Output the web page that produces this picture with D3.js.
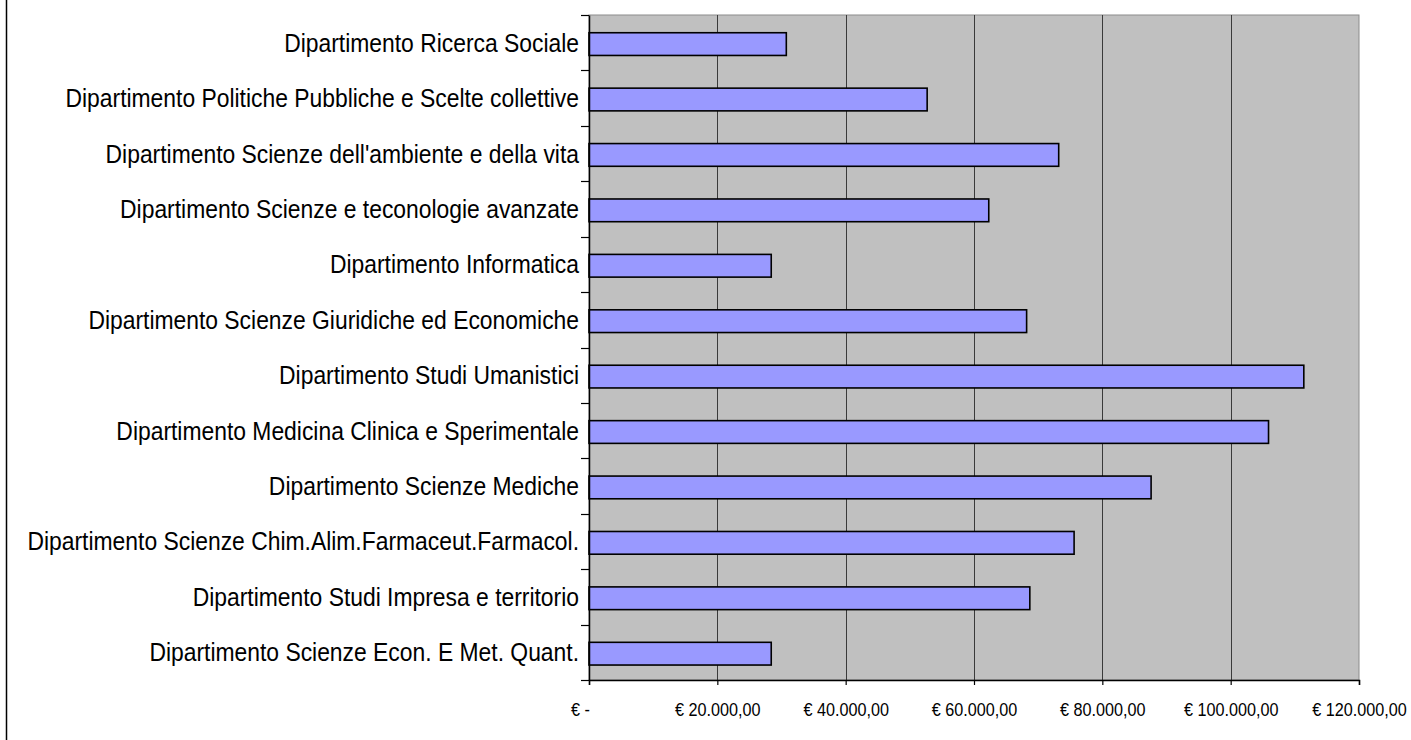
<!DOCTYPE html>
<html>
<head>
<meta charset="utf-8">
<script src="https://cdn.jsdelivr.net/npm/d3@7"></script>
<style>
  html, body { margin: 0; padding: 0; background: #ffffff; }
  svg { display: block; }
  text { font-family: "Liberation Sans", Arial, sans-serif; fill: #000; }
</style>
</head>
<body>
<svg id="chart" width="1411" height="740"></svg>
<script>
const categories = [
  "Dipartimento Ricerca Sociale",
  "Dipartimento Politiche Pubbliche e Scelte collettive",
  "Dipartimento Scienze dell'ambiente e della vita",
  "Dipartimento Scienze e teconologie avanzate",
  "Dipartimento Informatica",
  "Dipartimento Scienze Giuridiche ed Economiche",
  "Dipartimento Studi Umanistici",
  "Dipartimento Medicina Clinica e Sperimentale",
  "Dipartimento Scienze Mediche",
  "Dipartimento Scienze Chim.Alim.Farmaceut.Farmacol.",
  "Dipartimento Studi Impresa e territorio",
  "Dipartimento Scienze Econ. E Met. Quant."
];
const values = [30750, 52700, 73200, 62300, 28400, 68200, 111400, 105900, 87600, 75600, 68700, 28400];
const xTicks = [0, 20000, 40000, 60000, 80000, 100000, 120000];
const xTickLabels = ["€ -", "€ 20.000,00", "€ 40.000,00", "€ 60.000,00", "€ 80.000,00", "€ 100.000,00", "€ 120.000,00"];

const svg = d3.select("#chart");
const plot = { left: 589, right: 1359, top: 15, bottom: 680 };
const labelSX = 0.915, tickSX = 0.9;

const x = d3.scaleLinear().domain([0, 120000]).range([plot.left, plot.right]);
const y = d3.scaleBand().domain(categories).range([plot.top, plot.bottom]).padding(0);
const step = y.step();

// outer frame left edge
svg.append("line").attr("x1", 6.5).attr("x2", 6.5).attr("y1", 0).attr("y2", 740)
  .attr("stroke", "#000").attr("stroke-width", 1.5);

// plot background
svg.append("rect")
  .attr("x", plot.left).attr("y", plot.top)
  .attr("width", plot.right - plot.left).attr("height", plot.bottom - plot.top)
  .attr("fill", "#c0c0c0").attr("stroke", "#8c8c8c").attr("stroke-width", 1);

// gridlines
svg.append("g").selectAll("line").data(xTicks.slice(1, -1)).join("line")
  .attr("x1", d => Math.round(x(d)) + 0.5).attr("x2", d => Math.round(x(d)) + 0.5)
  .attr("y1", plot.top).attr("y2", plot.bottom)
  .attr("stroke", "#3a3a3a").attr("stroke-width", 1);

// bars
svg.append("g").selectAll("rect").data(values).join("rect")
  .attr("x", x(0))
  .attr("y", (d, i) => y(categories[i]) + step * 0.32)
  .attr("width", d => x(d) - x(0))
  .attr("height", step * 0.41)
  .attr("fill", "#9999ff").attr("stroke", "#000").attr("stroke-width", 1.6);

// x axis
const xAxis = d3.axisBottom(x).tickValues(xTicks)
  .tickFormat((d, i) => xTickLabels[i]).tickSize(5).tickPadding(18);
const gx = svg.append("g").attr("transform", `translate(0,${plot.bottom})`).call(xAxis);
gx.select(".domain").attr("stroke", "#000").attr("stroke-width", 1.5);
gx.selectAll(".tick line").attr("stroke", "#000").attr("stroke-width", 1.2);
gx.selectAll(".tick text").attr("font-size", 18).attr("font-family", "Liberation Sans, Arial, sans-serif")
  .attr("fill", "#000")
  .attr("x", (d, i) => i === 0 ? -9 / tickSX : 0)
  .attr("transform", `scale(${tickSX},1)`);

// y axis
const yAxis = d3.axisLeft(y).tickSize(0).tickPadding(10);
const gy = svg.append("g").attr("transform", `translate(${plot.left},0)`).call(yAxis);
gy.select(".domain").attr("stroke", "#000").attr("stroke-width", 1.5);
gy.selectAll(".tick text").attr("font-size", 25).attr("font-family", "Liberation Sans, Arial, sans-serif")
  .attr("fill", "#000")
  .attr("x", -10 / labelSX)
  .attr("dy", "0.36em")
  .attr("transform", `scale(${labelSX},1)`);

// y ticks at band boundaries
const bounds = categories.map(c => y(c)).concat([plot.bottom]);
svg.append("g").selectAll("line").data(bounds).join("line")
  .attr("x1", plot.left - 8).attr("x2", plot.left)
  .attr("y1", d => Math.round(d) + 0.5).attr("y2", d => Math.round(d) + 0.5)
  .attr("stroke", "#000").attr("stroke-width", 1.2);
</script>
</body>
</html>
